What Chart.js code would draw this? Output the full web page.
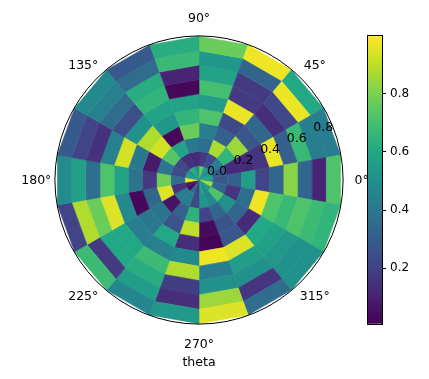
<!DOCTYPE html>
<html><head><meta charset="utf-8">
<style>html,body{margin:0;padding:0;background:#fff;overflow:hidden}#w{position:relative;width:429px;height:379px;overflow:hidden}canvas{position:absolute}</style>
<script src="https://cdn.jsdelivr.net/npm/chart.js@4"></script></head>
<body><div id="w"><canvas id="p" width="429" height="379" style="left:0;top:0"></canvas><canvas id="c" width="69" height="310" style="left:360px;top:25px"></canvas></div>
<script>
// cells: each list is one ring, outer to inner; sectors run clockwise from 90 deg, 20 deg each
const ring9=[.77,.98,.60,.42,.72,.65,.50,.35,.95,.53,.46,.68,.20,.48,.28,.47,.28,.62];
const ring8=[.52,.32,.97,.42,.10,.68,.50,.15,.85,.13,.55,.17,.88,.57,.20,.43,.35,.67];
const ring7=[.58,.17,.22,.67,.33,.72,.53,.50,.50,.18,.62,.60,.77,.36,.14,.35,.62,.10];
const ring6=[.70,.17,.13,.30,.82,.67,.57,.55,.42,.88,.68,.60,.95,.72,.43,.24,.65,.02];
const ring5=[.55,.97,.33,.97,.33,.72,.60,.95,.98,.47,.43,.42,.47,.58,.93,.50,.58,.58];
const ring4=[.72,.22,.27,.15,.20,.98,.12,.27,.01,.13,.60,.40,.02,.38,.40,.88,.52,.65];
const ring3=[.42,.30,.85,.12,.55,.36,.33,.26,.03,.90,.25,.38,.33,.17,.07,.93,.02,.77];
const ring2=[.36,.87,.65,.12,.30,.15,.50,.33,.20,.64,.31,.05,.95,.78,.39,.73,.58,.40];
const ring1=[.17,.23,.42,.28,.27,.33,.72,.47,.52,.22,.42,.42,.14,.36,.23,.22,.13,.12];
const ring0=[.78,.55,.45,.55,.58,.87,.55,.45,.58,.20,.33,.03,.08,.98,.55,.50,.62,.50];
const rings=[ring9,ring8,ring7,ring6,ring5,ring4,ring3,ring2,ring1,ring0];
const angleTicks=[0,45,90,135,180,225,270,315];
const radialTicks=[0,0.2,0.4,0.6,0.8];
const colorTicks=[0.2,0.4,0.6,0.8];
const vmin=0.008,vmax=0.999;
const stops=['#440154','#482475','#414487','#355f8d','#2a788e','#21918c','#22a884','#44bf70','#7ad151','#bddf26','#fde725'];
function rgb(h){return [1,3,5].map(i=>parseInt(h.substr(i,2),16));}
function viridis(t){t=Math.max(0,Math.min(1,t))*10;const i=Math.min(9,Math.floor(t)),f=t-i,a=rgb(stops[i]),b=rgb(stops[i+1]);
 return 'rgb('+a.map((v,k)=>Math.round(v+(b[k]-v)*f)).join(',')+')';}
class PolyCell extends Chart.ArcElement{
 draw(ctx){const {x,y,startAngle:a,endAngle:b,innerRadius:ri,outerRadius:ro,options:o}=this;
  ctx.save();ctx.beginPath();
  ctx.moveTo(x+ro*Math.cos(a),y+ro*Math.sin(a));ctx.lineTo(x+ro*Math.cos(b),y+ro*Math.sin(b));
  ctx.lineTo(x+ri*Math.cos(b),y+ri*Math.sin(b));ctx.lineTo(x+ri*Math.cos(a),y+ri*Math.sin(a));ctx.closePath();
  ctx.fillStyle=o.backgroundColor;ctx.fill();ctx.strokeStyle=o.borderColor;ctx.lineWidth=o.borderWidth;ctx.stroke();ctx.restore();}
}
PolyCell.id='polyCell';PolyCell.defaults={...Chart.ArcElement.defaults};
Chart.register(PolyCell);
Chart.defaults.datasets.doughnut.dataElementType='polyCell';
const FONT='"DejaVu Sans"';
const SIZE=12.5;
const BAR_SIZE=12;
const axisText={id:'axisText',afterDraw(ch){
 const arc=ch.getDatasetMeta(0).data[0],cx=arc.x,cy=arc.y,R=arc.outerRadius,g=ch.ctx;
 g.save();g.strokeStyle='#000';g.lineWidth=1;g.beginPath();g.arc(cx,cy,R+0.4,0,Math.PI*2);g.stroke();
 g.fillStyle='#000';g.font=SIZE+'px '+FONT;g.textAlign='center';g.textBaseline='middle';
 for(const a of angleTicks){const t=a*Math.PI/180,r=R+(a%180?20:19),dy=(a>0&&a<180)?2:1;
  g.fillText(a+'°',cx+r*Math.cos(t),cy-r*Math.sin(t)+dy);}
 const t=22.5*Math.PI/180;
 for(const v of radialTicks)g.fillText(v.toFixed(1),cx+v*R*Math.cos(t)+18,cy-v*R*Math.sin(t)-8.5);
 g.fillText('theta',cx,cy+R+39);
 g.restore();}};
new Chart(document.getElementById('p'),{type:'doughnut',
 data:{labels:rings[0].map((_,i)=>'s'+i),datasets:rings.map(r=>({data:r.map(()=>1),values:r,backgroundColor:r.map(viridis),borderColor:r.map(viridis),borderWidth:0.6}))},
 options:{responsive:false,animation:false,cutout:0,rotation:0,plugins:{legend:{display:false},tooltip:{enabled:false}},
  layout:{padding:{left:55,right:86,top:36,bottom:55}}},plugins:[axisText]});
new Chart(document.getElementById('c'),{type:'bar',
 data:{labels:[''],datasets:[{data:[[vmin,vmax]],barPercentage:1,categoryPercentage:1,backgroundColor(ctx){const a=ctx.chart.chartArea;if(!a)return '#000';const g=ctx.chart.ctx.createLinearGradient(0,a.bottom,0,a.top);stops.forEach((s,i)=>g.addColorStop(i/10,s));return g;}}]},
 options:{responsive:false,animation:false,plugins:{legend:{display:false},tooltip:{enabled:false}},
  layout:{padding:{left:8,right:0,top:10,bottom:9}},
  scales:{x:{display:false},y:{position:'right',min:vmin,max:vmax,afterBuildTicks(s){s.ticks=colorTicks.map(v=>({value:v}));},afterFit(s){s.width=47;},
   grid:{display:true,drawOnChartArea:false,tickLength:4,tickColor:'#000'},border:{display:true,color:'#000'},
   ticks:{color:'#000',padding:4,font:{family:FONT,size:BAR_SIZE},callback:v=>v.toFixed(1)}}}},
 plugins:[{id:'box',afterDraw(ch){const a=ch.chartArea,g=ch.ctx;g.save();g.strokeStyle='#000';g.lineWidth=1;g.strokeRect(Math.round(a.left)-.5,Math.round(a.top)-.5,Math.round(a.width)+1,Math.round(a.height)+1);g.restore();}}]});
</script></body></html>
